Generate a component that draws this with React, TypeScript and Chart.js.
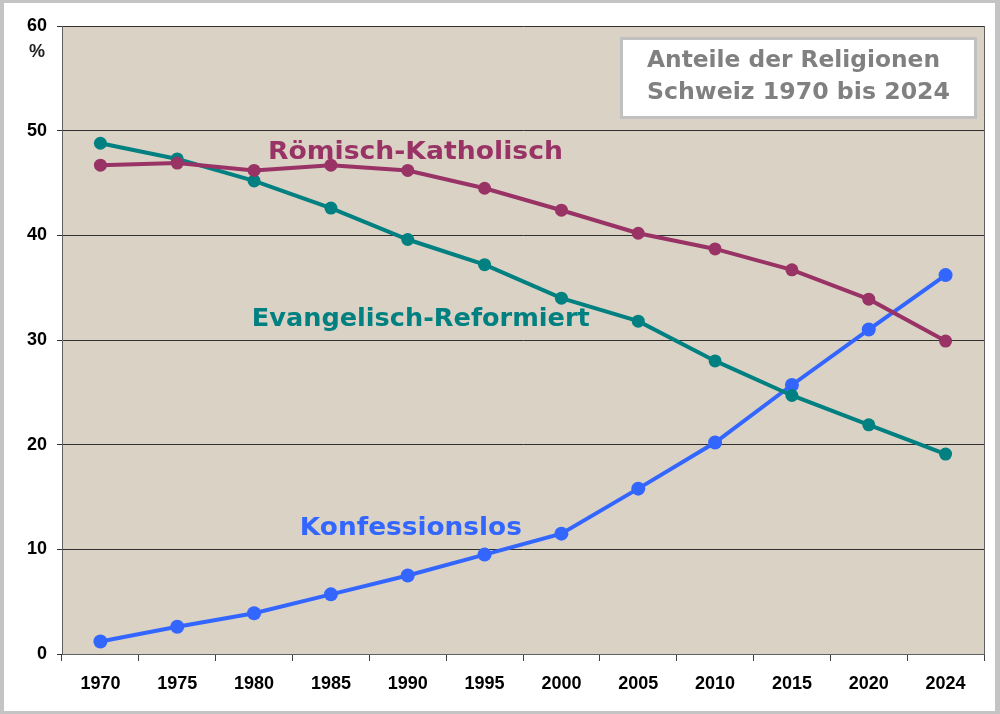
import React, { useEffect, useRef } from "react";
import { Chart, registerables } from "chart.js";

Chart.register(...registerables);

const years = ["1970", "1975", "1980", "1985", "1990", "1995", "2000", "2005", "2010", "2015", "2020", "2024"];
const katholisch = [46.7, 46.9, 46.2, 46.7, 46.2, 44.5, 42.4, 40.2, 38.7, 36.7, 33.9, 29.9];
const reformiert = [48.8, 47.3, 45.2, 42.6, 39.6, 37.2, 34.0, 31.8, 28.0, 24.7, 21.9, 19.1];
const konfessionslos = [1.2, 2.6, 3.9, 5.7, 7.5, 9.5, 11.5, 15.8, 20.2, 25.7, 31.0, 36.2];
const yTicks = [0, 10, 20, 30, 40, 50, 60];
const titleLines = ["Anteile der Religionen", "Schweiz 1970 bis 2024"];
const seriesNames = ["Römisch-Katholisch", "Evangelisch-Reformiert", "Konfessionslos"];
const colors = ["#993366", "#008080", "#3366ff"];
// label anchors in data coordinates (category index, percent)
const labelAnchors = [
  [4.1, 47.9],
  [4.17, 31.9],
  [4.04, 12.0],
];
const labelWidths = [295, 338, 222];

const decorPlugin = {
  id: "decor",
  beforeDraw(chart: any) {
    const { ctx, chartArea, width, height } = chart;
    ctx.save();
    ctx.fillStyle = "#ffffff";
    ctx.fillRect(0, 0, width, height);
    ctx.fillStyle = "#dad2c5";
    ctx.fillRect(chartArea.left, chartArea.top, chartArea.right - chartArea.left, chartArea.bottom - chartArea.top);
    ctx.restore();
  },
  afterDraw(chart: any) {
    const { ctx, chartArea, width, height } = chart;
    const xs = chart.scales.x;
    const ys = chart.scales.y;
    ctx.save();
    // right border of plot
    ctx.strokeStyle = "#606060";
    ctx.lineWidth = 1;
    ctx.beginPath();
    ctx.moveTo(chartArea.right + 0.5, chartArea.top);
    ctx.lineTo(chartArea.right + 0.5, chartArea.bottom);
    ctx.stroke();
    // percent sign
    ctx.fillStyle = "#222222";
    ctx.font = "bold 18px 'Liberation Sans', Arial, sans-serif";
    ctx.textAlign = "center";
    ctx.textBaseline = "middle";
    ctx.fillText("%", 37, 52);
    // series labels
    ctx.font = "bold 24px 'DejaVu Sans', Verdana, sans-serif";
    seriesNames.forEach((name, i) => {
      const x = xs.getPixelForValue(labelAnchors[i][0]);
      const y = ys.getPixelForValue(labelAnchors[i][1]);
      const w = ctx.measureText(name).width;
      const sx = labelWidths[i] / w;
      ctx.save();
      ctx.translate(x, y);
      ctx.scale(sx, 1);
      ctx.fillStyle = colors[i];
      ctx.fillText(name, 0, 0);
      ctx.restore();
    });
    // title box
    ctx.fillStyle = "#ffffff";
    ctx.fillRect(621, 38, 355, 80);
    ctx.strokeStyle = "#c0c0c0";
    ctx.lineWidth = 3;
    ctx.strokeRect(621.5, 38.5, 354, 79);
    ctx.fillStyle = "#808080";
    ctx.textAlign = "left";
    ctx.font = "bold 23px 'DejaVu Sans', Verdana, sans-serif";
    titleLines.forEach((t, i) => {
      const w = ctx.measureText(t).width;
      const target = i === 0 ? 293 : 303;
      ctx.save();
      ctx.translate(647, 61 + i * 32);
      ctx.scale(target / w, 1);
      ctx.fillText(t, 0, 0);
      ctx.restore();
    });
    // outer frame
    ctx.fillStyle = "#c4c4c4";
    ctx.fillRect(0, 0, width, 3);
    ctx.fillRect(0, 0, 4, height);
    ctx.fillRect(0, height - 3, width, 3);
    ctx.fillRect(width - 5, 0, 5, height);
    ctx.restore();
  },
};

export default function App() {
  const ref = useRef<HTMLCanvasElement>(null);
  useEffect(() => {
    document.body.style.margin = "0";
    const makeDs = (label: string, data: number[], color: string, r: number) => ({
      label,
      data,
      borderColor: color,
      backgroundColor: color,
      pointBackgroundColor: color,
      pointBorderColor: color,
      borderWidth: 4,
      pointRadius: r,
      pointBorderWidth: 0,
      tension: 0,
    });
    const chart = new Chart(ref.current!, {
      type: "line",
      data: {
        labels: years,
        datasets: [
          makeDs(seriesNames[0], katholisch, colors[0], 6.5),
          makeDs(seriesNames[1], reformiert, colors[1], 6.5),
          makeDs(seriesNames[2], konfessionslos, colors[2], 7),
        ],
      },
      options: {
        animation: false,
        responsive: false,
        devicePixelRatio: 1,
        layout: { padding: { left: 0, right: 16, top: 26, bottom: 0 } },
        plugins: { legend: { display: false }, tooltip: { enabled: false }, title: { display: false } },
        scales: {
          x: {
            type: "category",
            offset: true,
            grid: {
              offset: true,
              drawOnChartArea: false,
              drawTicks: true,
              tickLength: 7,
              color: "#404040",
            },
            border: { color: "#606060", width: 1 },
            ticks: {
              color: "#000000",
              font: { family: "'Liberation Sans', Arial, sans-serif", size: 18, weight: "bold" },
              padding: 12,
              maxRotation: 0,
              autoSkip: false,
            },
            afterFit(scale: any) {
              scale.height = 60;
            },
          },
          y: {
            min: 0,
            max: 60,
            afterBuildTicks(scale: any) {
              scale.ticks = yTicks.map((v) => ({ value: v }));
            },
            grid: {
              color: "#303030",
              lineWidth: 1,
              tickLength: 5,
              drawTicks: true,
            },
            border: { color: "#606060", width: 1 },
            ticks: {
              color: "#000000",
              font: { family: "'Liberation Sans', Arial, sans-serif", size: 18, weight: "bold" },
              padding: 10,
            },
            afterFit(scale: any) {
              scale.width = 62;
            },
          },
        },
      },
      plugins: [decorPlugin],
    });
    return () => chart.destroy();
  }, []);
  return <canvas ref={ref} width={1000} height={714} style={{ display: "block" }} />;
}
